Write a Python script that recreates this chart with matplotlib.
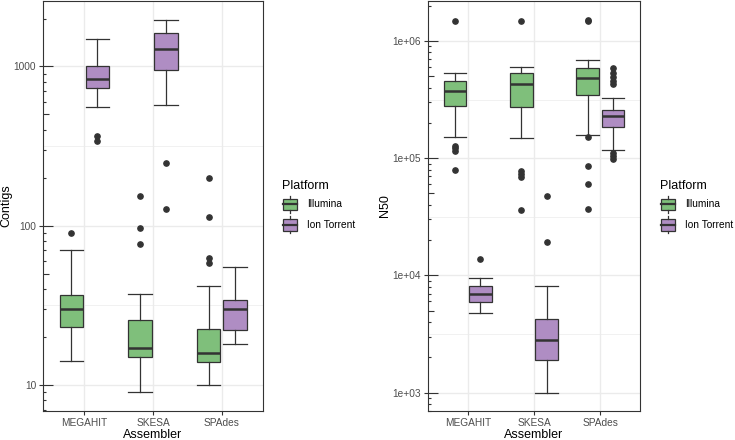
"""
Assembly stats by assembler and sequencing platform: contig counts and N50,
drawn as dodged boxplots on log axes (ggplot theme_bw look).
"""

import numpy as np
import matplotlib
matplotlib.use("Agg")
import matplotlib.pyplot as plt
from matplotlib.patches import Patch, Rectangle
from matplotlib.lines import Line2D
from matplotlib.legend_handler import HandlerBase

plt.rcParams["font.family"] = ["Liberation Sans", "DejaVu Sans"]

GREEN = "#7FBF7B"
PURPLE = "#AF8DC3"
DARK = "#333333"
GRID = "#EBEBEB"
TICKTXT = "#4D4D4D"

assemblers = ["MEGAHIT", "SKESA", "SPAdes"]
platforms = ["Illumina", "Ion Torrent"]

# (whisker low, q1, median, q3, whisker high) per assembler
contigs_illumina_box = [(14.1, 23.0, 30.1, 36.5, 70.5),
                        (9.0, 15.0, 17.1, 25.5, 37.1),
                        (10.0, 14.0, 16.0, 22.4, 41.9)]
contigs_illumina_out = [[90.6], [153, 97, 77], [199, 114, 63, 58]]
contigs_iontorrent_box = [(560, 736, 837, 1000, 1497),
                          (570, 949, 1291, 1633, 1958),
                          (18.0, 22.0, 30.1, 34.4, 55.1)]
contigs_iontorrent_out = [[366, 339], [248, 127], []]

n50_illumina_box = [(1.52e5, 2.78e5, 3.73e5, 4.51e5, 5.31e5),
                    (1.49e5, 2.71e5, 4.33e5, 5.31e5, 6.04e5),
                    (1.59e5, 3.45e5, 4.82e5, 5.86e5, 6.89e5)]
n50_illumina_out = [[1.48e6, 1.27e5, 1.21e5, 1.15e5, 7.9e4],
                    [1.48e6, 7.7e4, 7.3e4, 6.9e4, 3.6e4],
                    [1.50e6, 1.47e6, 1.51e5, 8.6e4, 6.0e4, 3.67e4]]
n50_iontorrent_box = [(4.75e3, 5.96e3, 6.92e3, 8.2e3, 9.6e3),
                      (1.0e3, 1.91e3, 2.81e3, 4.27e3, 8.15e3),
                      (1.18e5, 1.86e5, 2.29e5, 2.58e5, 3.26e5)]
n50_iontorrent_out = [[1.37e4], [4.74e4, 1.91e4],
                      [5.82e5, 5.37e5, 4.94e5, 4.57e5, 4.28e5, 1.10e5, 1.04e5, 9.8e4]]

contigs_ticks = [10, 100, 1000]
contigs_labels = ["10", "100", "1000"]
n50_ticks = [1e3, 1e4, 1e5, 1e6]
n50_labels = ["1e+03", "1e+04", "1e+05", "1e+06"]

FIG_W, FIG_H = 735, 440
BOX_W = 0.34
DODGE = 0.19


class BoxKey(HandlerBase):
    """ggplot-like boxplot legend key."""
    def create_artists(self, legend, orig_handle, xdescent, ydescent,
                       width, height, fontsize, trans):
        x0, y0 = -xdescent, -ydescent
        cx = x0 + width / 2
        fc = orig_handle.get_facecolor()
        rect = Rectangle((x0 + 0.05 * width, y0 + 0.16 * height),
                         0.9 * width, 0.68 * height, facecolor=fc,
                         edgecolor=DARK, linewidth=0.9, transform=trans)
        w1 = Line2D([cx, cx], [y0, y0 + 0.16 * height],
                    color=DARK, linewidth=0.9, transform=trans)
        w2 = Line2D([cx, cx], [y0 + 0.84 * height, y0 + height],
                    color=DARK, linewidth=0.9, transform=trans)
        med = Line2D([x0 + 0.05 * width, x0 + 0.95 * width],
                     [y0 + 0.5 * height] * 2, color=DARK, linewidth=1.6,
                     transform=trans)
        return [rect, w1, w2, med]


def stats_for(boxes, outs):
    out = []
    for (lo, q1, med, q3, hi), fl in zip(boxes, outs):
        out.append(dict(whislo=lo, q1=q1, med=med, q3=q3, whishi=hi,
                        fliers=np.array(fl, dtype=float)))
    return out


def draw_panel(rect, series, ylim, ticks, labels, ylabel, legend_x):
    ax = fig.add_axes(rect)
    ax.set_yscale("log")
    ax.set_ylim(*ylim)
    ax.set_xlim(0.4, 3.6)

    # grid: major at decades, minor at half decades, vertical at categories
    lo_dec = int(np.floor(np.log10(ylim[0])))
    hi_dec = int(np.ceil(np.log10(ylim[1])))
    for d in range(lo_dec, hi_dec + 1):
        ax.axhline(10.0 ** d, color=GRID, linewidth=1.0, zorder=0)
        ax.axhline(10.0 ** (d + 0.5), color=GRID, linewidth=0.5, zorder=0)
    xs = np.arange(1, len(assemblers) + 1)
    for x in xs:
        ax.axvline(x, color=GRID, linewidth=1.0, zorder=0)

    for (boxes, outs, color), off in zip(series, (-DODGE, DODGE)):
        ax.bxp(stats_for(boxes, outs), positions=xs + off, widths=BOX_W,
               capwidths=BOX_W, patch_artist=True, manage_ticks=False,
               boxprops=dict(facecolor=color, edgecolor=DARK, linewidth=0.9),
               whiskerprops=dict(color=DARK, linewidth=0.9),
               capprops=dict(color=DARK, linewidth=0.9),
               medianprops=dict(color=DARK, linewidth=1.8),
               flierprops=dict(marker="o", markerfacecolor=DARK,
                               markeredgecolor=DARK, markersize=3.8),
               zorder=3)

    # annotation_logticks style marks on the left side
    ax_w = rect[2] * FIG_W
    trans = ax.get_yaxis_transform()
    for d in range(lo_dec, hi_dec + 1):
        for k in range(1, 10):
            v = k * 10.0 ** d
            if not (ylim[0] <= v <= ylim[1]):
                continue
            L = 10 if k == 1 else (6 if k == 5 else 2.8)
            ax.plot([0, L / ax_w], [v, v], color=DARK, linewidth=0.8,
                    transform=trans, solid_capstyle="butt", zorder=4,
                    clip_on=False)

    ax.set_yticks(ticks, labels)
    ax.yaxis.set_minor_locator(matplotlib.ticker.NullLocator())
    ax.set_xticks(xs, assemblers)
    ax.tick_params(axis="both", direction="out", length=3, width=0.8,
                   color=DARK, labelcolor=TICKTXT, labelsize=7.3, pad=2)
    for s in ax.spines.values():
        s.set_color(DARK)
        s.set_linewidth(0.8)
    ax.set_xlabel("Assembler", fontsize=9, labelpad=1)
    ax.set_ylabel(ylabel, fontsize=9, labelpad=1)

    handles = [Patch(facecolor=GREEN), Patch(facecolor=PURPLE)]
    ax.legend(handles, platforms, title="Platform", loc="center left",
              bbox_to_anchor=(legend_x, 0.530),
              bbox_transform=fig.transFigure, frameon=False,
              handler_map={Patch: BoxKey()}, fontsize=7.3,
              title_fontsize=9, handlelength=1.6, handleheight=2.2,
              labelspacing=0.35, handletextpad=0.9, borderpad=0,
              borderaxespad=0, alignment="left")
    return ax


fig = plt.figure(figsize=(FIG_W / 100, FIG_H / 100), dpi=100)

draw_panel([43 / FIG_W, 29 / FIG_H, 220 / FIG_W, 410 / FIG_H],
           [(contigs_illumina_box, contigs_illumina_out, GREEN),
            (contigs_iontorrent_box, contigs_iontorrent_out, PURPLE)],
           (6.87, 2577), contigs_ticks, contigs_labels, "Contigs",
           282 / FIG_W)

draw_panel([428 / FIG_W, 29 / FIG_H, 212 / FIG_W, 410 / FIG_H],
           [(n50_illumina_box, n50_illumina_out, GREEN),
            (n50_iontorrent_box, n50_iontorrent_out, PURPLE)],
           (698, 2.19e6), n50_ticks, n50_labels, "N50",
           660 / FIG_W)

fig.savefig("out.png", dpi=100, facecolor="white")
plt.close(fig)
